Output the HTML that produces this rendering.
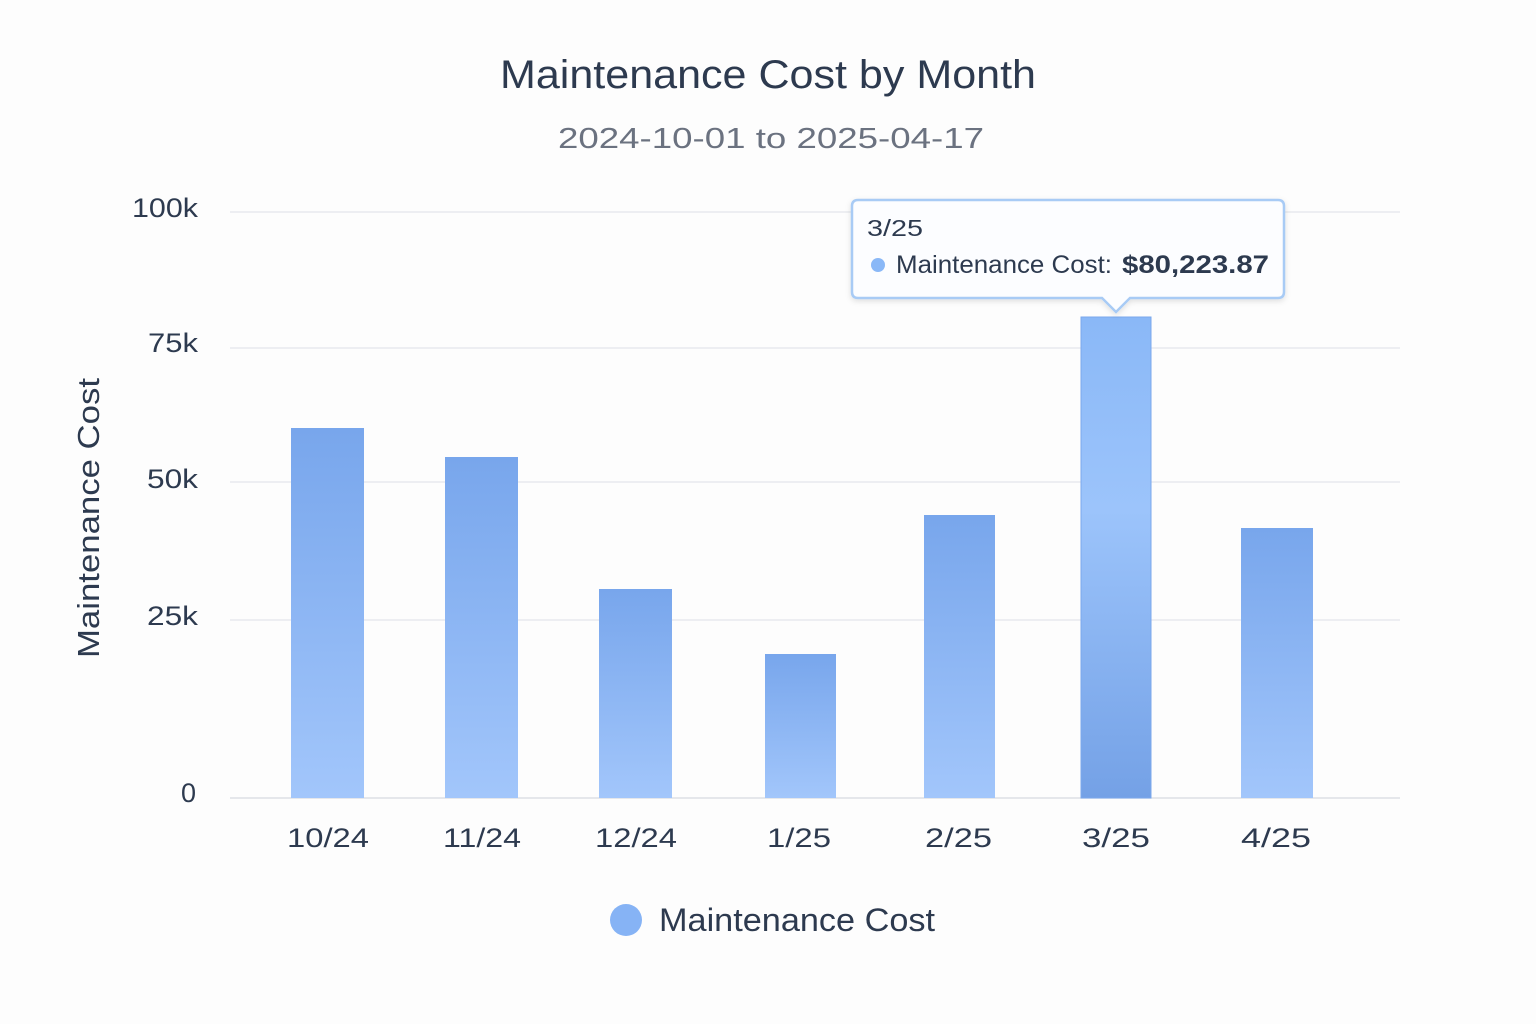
<!DOCTYPE html>
<html><head><meta charset="utf-8"><style>
html,body{margin:0;padding:0;background:#fdfdfd;}
svg{display:block;font-family:"Liberation Sans","DejaVu Sans",sans-serif;}
</style></head><body>
<svg width="1536" height="1024" viewBox="0 0 1536 1024">
<defs>
<linearGradient id="g" x1="0" y1="0" x2="0" y2="1">
<stop offset="0" stop-color="#78a6ec"/><stop offset="1" stop-color="#a2c6fb"/></linearGradient>
<linearGradient id="h" x1="0" y1="0" x2="0" y2="1">
<stop offset="0" stop-color="#8ab8f7"/><stop offset="0.4" stop-color="#9cc4fb"/><stop offset="1" stop-color="#74a1e6"/></linearGradient>
<filter id="s" x="-10%" y="-20%" width="120%" height="150%"><feDropShadow dx="0" dy="2" stdDeviation="3" flood-color="#000" flood-opacity="0.12"/></filter>
</defs>
<rect width="1536" height="1024" fill="#fdfdfd"/>
<text x="500" y="88" font-size="40" fill="#2d3a4f" textLength="536" lengthAdjust="spacingAndGlyphs">Maintenance Cost by Month</text>
<text x="558" y="148" font-size="29" fill="#6b7280" textLength="426" lengthAdjust="spacingAndGlyphs">2024-10-01 to 2025-04-17</text>
<g stroke="#e8eaee" stroke-width="1.5">
<line x1="230" y1="212" x2="1400" y2="212"/><line x1="230" y1="348" x2="1400" y2="348"/>
<line x1="230" y1="482" x2="1400" y2="482"/><line x1="230" y1="620" x2="1400" y2="620"/>
<line x1="230" y1="798" x2="1400" y2="798" stroke="#dde0e5"/></g>
<g font-size="27" fill="#2d3a4f">
<text x="132" y="217" textLength="66" lengthAdjust="spacingAndGlyphs">100k</text>
<text x="148" y="352" textLength="50" lengthAdjust="spacingAndGlyphs">75k</text>
<text x="147" y="488" textLength="51" lengthAdjust="spacingAndGlyphs">50k</text>
<text x="147" y="625" textLength="51" lengthAdjust="spacingAndGlyphs">25k</text>
<text x="181" y="802">0</text></g>
<text transform="translate(99,658) rotate(-90)" font-size="31" fill="#2d3a4f" textLength="280" lengthAdjust="spacingAndGlyphs">Maintenance Cost</text>
<g fill="url(#g)">
<rect x="291" y="428" width="73" height="370"/><rect x="445" y="457" width="73" height="341"/>
<rect x="599" y="589" width="73" height="209"/><rect x="765" y="654" width="71" height="144"/>
<rect x="924" y="515" width="71" height="283"/><rect x="1241" y="528" width="72" height="270"/></g>
<rect x="1081" y="317" width="70" height="481" fill="url(#h)" stroke="#7aa8ec" stroke-width="1"/>
<g font-size="27" fill="#2d3a4f">
<text x="287" y="847" textLength="82" lengthAdjust="spacingAndGlyphs">10/24</text>
<text x="443" y="847" textLength="78" lengthAdjust="spacingAndGlyphs">11/24</text>
<text x="595" y="847" textLength="82" lengthAdjust="spacingAndGlyphs">12/24</text>
<text x="767" y="847" textLength="64" lengthAdjust="spacingAndGlyphs">1/25</text>
<text x="925" y="847" textLength="67" lengthAdjust="spacingAndGlyphs">2/25</text>
<text x="1082" y="847" textLength="68" lengthAdjust="spacingAndGlyphs">3/25</text>
<text x="1241" y="847" textLength="70" lengthAdjust="spacingAndGlyphs">4/25</text></g>
<g filter="url(#s)">
<path d="M858,200 H1278 Q1284,200 1284,206 V292 Q1284,298 1278,298 H1130 L1116,312 L1102,298 H858 Q852,298 852,292 V206 Q852,200 858,200 Z" fill="#fcfdff" stroke="#a8cbf5" stroke-width="2.5"/></g>
<text x="867" y="236" font-size="23" fill="#2d3a4f" textLength="56" lengthAdjust="spacingAndGlyphs">3/25</text>
<circle cx="878" cy="265" r="7" fill="#8ab8f7"/>
<text x="896" y="273" font-size="25" fill="#2d3a4f" textLength="216" lengthAdjust="spacingAndGlyphs">Maintenance Cost:</text>
<text x="1122" y="273" font-size="25" font-weight="bold" fill="#2d3a4f" textLength="147" lengthAdjust="spacingAndGlyphs">$80,223.87</text>
<circle cx="626" cy="920" r="16" fill="#86b3f5"/>
<text x="659" y="931" font-size="32" fill="#2d3a4f" textLength="276" lengthAdjust="spacingAndGlyphs">Maintenance Cost</text>
</svg>
</body></html>
